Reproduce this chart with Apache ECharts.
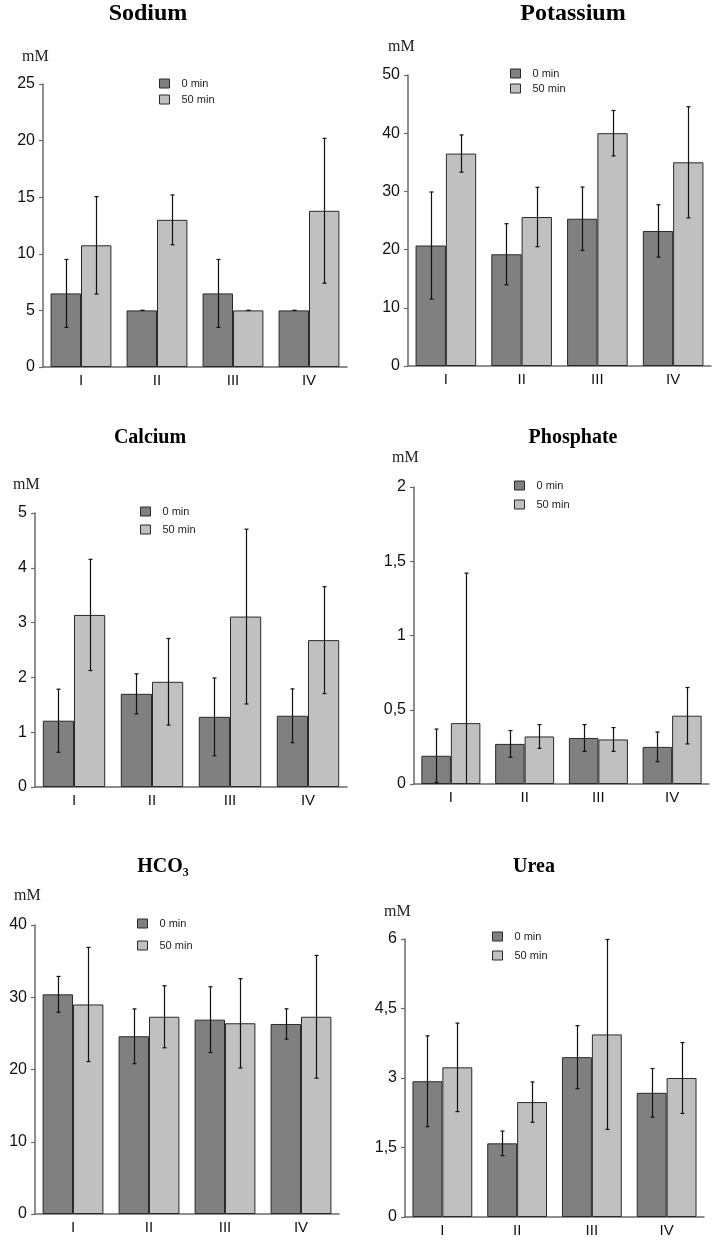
<!DOCTYPE html>
<html>
<head>
<meta charset="utf-8">
<script src="https://cdn.jsdelivr.net/npm/echarts@6/dist/echarts.min.js"></script>
<style>
html,body{margin:0;padding:0;background:#fff;}
#chart{width:713px;height:1240px;}
</style>
</head>
<body>
<div id="chart"></div>
<script>
// ---------- DATA ----------
const categories = ['I', 'II', 'III', 'IV'];
const seriesNames = ['0 min', '50 min'];

const sodium0 = [6.5, 5.0, 6.5, 5.0];
const sodium0Sd = [3.0, 0, 3.0, 0];
const sodium50 = [10.75, 13.0, 5.0, 13.8];
const sodium50Sd = [4.3, 2.2, 0, 6.4];

const potassium0 = [20.7, 19.2, 25.3, 23.2];
const potassium0Sd = [9.2, 5.25, 5.45, 4.5];
const potassium50 = [36.5, 25.6, 40.0, 35.0];
const potassium50Sd = [3.2, 5.1, 3.9, 9.55];

const calcium0 = [1.21, 1.70, 1.28, 1.30];
const calcium0Sd = [0.575, 0.365, 0.71, 0.49];
const calcium50 = [3.14, 1.92, 3.11, 2.68];
const calcium50Sd = [1.015, 0.79, 1.595, 0.975];

const phosphate0 = [0.19, 0.27, 0.31, 0.25];
const phosphate0Sd = [0.18, 0.09, 0.09, 0.10];
const phosphate50 = [0.41, 0.32, 0.30, 0.46];
const phosphate50Sd = [1.01, 0.08, 0.08, 0.19];

const hco30 = [30.4, 24.6, 26.9, 26.3];
const hco30Sd = [2.48, 3.79, 4.55, 2.1];
const hco350 = [29.0, 27.3, 26.4, 27.3];
const hco350Sd = [7.9, 4.29, 6.18, 8.49];

const urea0 = [2.93, 1.59, 3.45, 2.68];
const urea0Sd = [0.98, 0.265, 0.68, 0.525];
const urea50 = [3.23, 2.48, 3.94, 3.0];
const urea50Sd = [0.955, 0.435, 2.05, 0.765];

// y-axis scales: [max, interval]
const sodiumScale = [25, 5];
const potassiumScale = [50, 10];
const calciumScale = [5, 1];
const phosphateScale = [2, 0.5];
const hco3Scale = [40, 10];
const ureaScale = [6, 1.5];

// ---------- LAYOUT ----------
const panels = [
  { title: 'Sodium', m0: sodium0, s0: sodium0Sd, m50: sodium50, s50: sodium50Sd, scale: sodiumScale,
    grid: { left: 43, top: 84, width: 304, height: 283 }, tx: 148, ty: 14, tfs: 24,
    mx: 22, my: 57, lx: 159, ly: 78, lgap: 5 },
  { title: 'Potassium', m0: potassium0, s0: potassium0Sd, m50: potassium50, s50: potassium50Sd, scale: potassiumScale,
    grid: { left: 408, top: 75, width: 303, height: 291 }, tx: 573, ty: 14, tfs: 24,
    mx: 388, my: 47, lx: 510, ly: 68, lgap: 4 },
  { title: 'Calcium', m0: calcium0, s0: calcium0Sd, m50: calcium50, s50: calcium50Sd, scale: calciumScale,
    grid: { left: 35, top: 513, width: 312, height: 274 }, tx: 150, ty: 438, tfs: 20,
    mx: 13, my: 485, lx: 140, ly: 506, lgap: 7 },
  { title: 'Phosphate', m0: phosphate0, s0: phosphate0Sd, m50: phosphate50, s50: phosphate50Sd, scale: phosphateScale,
    grid: { left: 414, top: 487, width: 295, height: 297 }, tx: 573, ty: 438, tfs: 20,
    mx: 392, my: 458, lx: 514, ly: 480, lgap: 8 },
  { title: 'HCO\u2083', m0: hco30, s0: hco30Sd, m50: hco350, s50: hco350Sd, scale: hco3Scale,
    grid: { left: 35, top: 925, width: 304, height: 289 }, tx: 163, ty: 867, tfs: 20,
    mx: 14, my: 896, lx: 137, ly: 918, lgap: 11 },
  { title: 'Urea', m0: urea0, s0: urea0Sd, m50: urea50, s50: urea50Sd, scale: ureaScale,
    grid: { left: 405, top: 939, width: 299, height: 278 }, tx: 534, ty: 867, tfs: 20,
    mx: 384, my: 912, lx: 492, ly: 931, lgap: 8 }
];

const colors = ['#808080', '#c0c0c0'];
const axisColor = '#6a6a6a';
const sansFont = '"Liberation Sans", Arial, Helvetica, sans-serif';
const serifFont = '"Liberation Serif", "Times New Roman", serif';

function errRender(side) {
  return function (params, api) {
    const x = api.value(0), lo = api.value(1), hi = api.value(2), clipped = api.value(3);
    const bw = api.size([1, 0])[0] * 0.8 / 2;
    const top = api.coord([x, hi]);
    const bot = api.coord([x, lo]);
    const cx = Math.round(top[0] + side * bw / 2) + 0.5;
    const cap = 2;
    const st = { stroke: '#111', lineWidth: 1.2 };
    const children = [
      { type: 'line', shape: { x1: cx, y1: top[1], x2: cx, y2: bot[1] }, style: st },
      { type: 'line', shape: { x1: cx - cap, y1: top[1], x2: cx + cap, y2: top[1] }, style: st }
    ];
    if (!clipped) children.push({ type: 'line', shape: { x1: cx - cap, y1: bot[1], x2: cx + cap, y2: bot[1] }, style: st });
    return { type: 'group', children: children };
  };
}

const grid = [], xAxis = [], yAxis = [], series = [], legend = [], graphic = [];

panels.forEach((p, i) => {
  grid.push(Object.assign({ containLabel: false }, p.grid));
  xAxis.push({
    type: 'category', gridIndex: i, data: categories,
    axisLine: { show: true, lineStyle: { color: axisColor, width: 1.5 } },
    axisTick: { show: false },
    axisLabel: { fontSize: 15, color: '#111', fontFamily: sansFont, margin: 6 }
  });
  yAxis.push({
    type: 'value', gridIndex: i, min: 0, max: p.scale[0], interval: p.scale[1],
    axisLine: { show: true, lineStyle: { color: axisColor, width: 1.5 } },
    axisTick: { show: true, length: 4, lineStyle: { color: axisColor, width: 1.2 } },
    splitLine: { show: false },
    axisLabel: { fontSize: 16, color: '#111', fontFamily: sansFont, margin: 8,
      formatter: v => String(v).replace('.', ',') }
  });
  [[p.m0, p.s0], [p.m50, p.s50]].forEach((pair, k) => {
    series.push({
      name: seriesNames[k], type: 'bar', xAxisIndex: i, yAxisIndex: i,
      data: pair[0], barGap: '0%', barCategoryGap: '20%',
      itemStyle: { color: colors[k], borderColor: '#2a2a2a', borderWidth: 1 },
      emphasis: { disabled: true }, animation: false
    });
  });
  [[p.m0, p.s0], [p.m50, p.s50]].forEach((pair, k) => {
    const data = pair[0].map((m, j) => {
      const lo = m - pair[1][j];
      return [j, Math.max(0, lo), m + pair[1][j], lo < 0 ? 1 : 0];
    });
    series.push({
      type: 'custom', xAxisIndex: i, yAxisIndex: i, z: 5,
      renderItem: errRender(k === 0 ? -1 : 1), data: data, animation: false,
      silent: true
    });
  });
  legend.push({
    data: seriesNames, orient: 'vertical', left: p.lx, top: p.ly, padding: 0,
    itemWidth: 10, itemHeight: 9, itemGap: p.lgap, icon: 'rect',
    selectedMode: false,
    itemStyle: { borderColor: '#2a2a2a', borderWidth: 1 },
    textStyle: { fontSize: 11, color: '#222', fontFamily: sansFont, lineHeight: 9, padding: [0, 0, 0, 7] }
  });
  graphic.push({
    type: 'text', x: p.tx, y: p.ty,
    style: { text: p.title, fill: '#000', font: 'bold ' + p.tfs + 'px ' + serifFont,
      textAlign: 'center', textVerticalAlign: 'middle' }
  });
  graphic.push({
    type: 'text', x: p.mx, y: p.my,
    style: { text: 'mM', fill: '#222', font: '16px ' + serifFont,
      textAlign: 'left', textVerticalAlign: 'middle' }
  });
});

const chart = echarts.init(document.getElementById('chart'), null, { renderer: 'canvas' });
chart.setOption({
  backgroundColor: '#fff',
  animation: false,
  grid, xAxis, yAxis, series, legend, graphic
});
</script>
</body>
</html>
